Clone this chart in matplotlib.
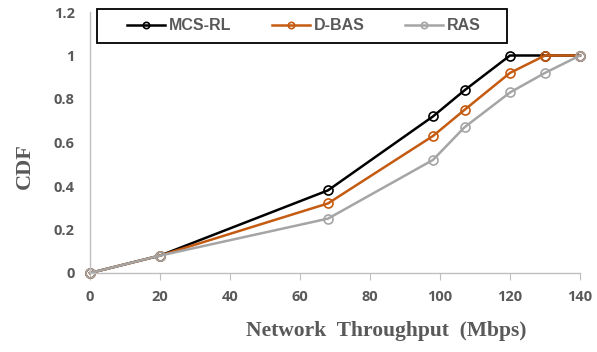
import matplotlib.pyplot as plt
from matplotlib.patches import Rectangle

# -------------------------------------------------
# Data
# -------------------------------------------------
throughput = [0, 20, 68, 98, 107, 120, 130, 140]
mcs_rl = [0, 0.08, 0.38, 0.72, 0.84, 1.0, 1.0, 1.0]
d_bas = [0, 0.08, 0.32, 0.63, 0.75, 0.92, 1.0, 1.0]
ras = [0, 0.08, 0.25, 0.52, 0.67, 0.83, 0.92, 1.0]

series = [
    ("MCS-RL", mcs_rl, "#000000"),
    ("D-BAS", d_bas, "#C55A11"),
    ("RAS", ras, "#A5A5A5"),
]

x_ticks = [0, 20, 40, 60, 80, 100, 120, 140]
y_ticks = [0, 0.2, 0.4, 0.6, 0.8, 1, 1.2]
y_labels = ["0", "0.2", "0.4", "0.6", "0.8", "1", "1.2"]

W, H = 597, 352

# -------------------------------------------------
# Plot
# -------------------------------------------------
fig = plt.figure(figsize=(W / 100, H / 100), dpi=100)
ax = fig.add_axes([90 / W, 79 / H, 490 / W, 261 / H])

for name, vals, color in series:
    ax.plot(throughput, vals, color=color, lw=1.8, marker="o", ms=6.5,
            mfc="none", mec=color, mew=1.2, label=name, clip_on=False)

ax.set_xlim(0, 140)
ax.set_ylim(0, 1.2)
ax.set_xticks(x_ticks)
ax.set_yticks(y_ticks)
ax.set_yticklabels(y_labels)

for lbl in ax.get_xticklabels() + ax.get_yticklabels():
    lbl.set_fontfamily("Open Sans")
    lbl.set_fontweight("bold")
    lbl.set_fontsize(10.5)
    lbl.set_color("#595959")

ax.spines["top"].set_visible(False)
ax.spines["right"].set_visible(False)
for side in ["left", "bottom"]:
    ax.spines[side].set_color("#BFBFBF")
    ax.spines[side].set_linewidth(1.0)
ax.tick_params(axis="x", direction="out", length=5, color="#BFBFBF", pad=7)
ax.tick_params(axis="y", length=0, pad=11)

# axis titles
fig.text(386 / W, 1 - 331 / H, "Network  Throughput  (Mbps)",
         family="Liberation Serif", weight="bold", size=15.5,
         color="#595959", ha="center", va="center")
fig.text(25 / W, 1 - 166 / H, "CDF", family="Liberation Serif",
         weight="bold", size=16, color="#595959", rotation=90,
         ha="center", va="center")

# legend with a separate frame box
leg = fig.legend(loc="center", ncol=3, frameon=False,
                 bbox_to_anchor=(304 / W, 1 - 26 / H),
                 prop=dict(family="Liberation Sans", weight="bold", size=11.5),
                 handlelength=2.4, handletextpad=0.25, columnspacing=2.5,
                 markerscale=0.7)
for txt in leg.get_texts():
    txt.set_color("#595959")

fig.patches.append(Rectangle((97 / W, 1 - 43 / H), 410 / W, 34 / H,
                             transform=fig.transFigure, fill=False,
                             edgecolor="black", linewidth=1.3))

fig.savefig("out.png", dpi=100)
